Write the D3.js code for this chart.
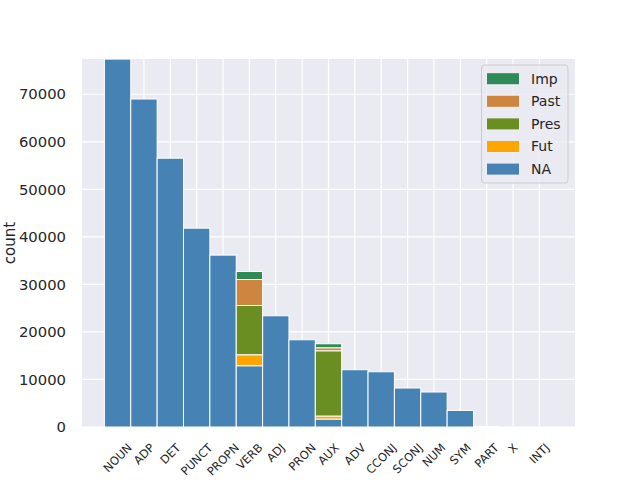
<!DOCTYPE html>
<html><head><meta charset="utf-8">
<script src="https://cdn.jsdelivr.net/npm/d3@7"></script>
<style>body{margin:0;background:#fff}svg{display:block}text{font-family:"DejaVu Sans",sans-serif;fill:#262626}</style>
</head><body><svg id="c" width="640" height="480"></svg>
<script>
const categories = ["NOUN","ADP","DET","PUNCT","PROPN","VERB","ADJ","PRON","AUX","ADV","CCONJ","SCONJ","NUM","SYM","PART","X","INTJ"];
const seriesNames = ["NA","Fut","Pres","Past","Imp"];
const valNA   = [77400,69000,56550,41830,36160,12890,23400,18350,1680,12050,11620,8200,7360,3490,100,50,30];
const valFut  = [0,0,0,0,0,2310,0,0,630,0,0,0,0,0,0,0,0];
const valPres = [0,0,0,0,0,10360,0,0,13730,0,0,0,0,0,0,0,0];
const valPast = [0,0,0,0,0,5470,0,0,630,0,0,0,0,0,0,0,0];
const valImp  = [0,0,0,0,0,1680,0,0,840,0,0,0,0,0,0,0,0];
const yTicks = [0,10000,20000,30000,40000,50000,60000,70000];
const legendOrder = ["Imp","Past","Pres","Fut","NA"];
const colors = {NA:"#4682B4",Fut:"#FFA500",Pres:"#6B8E23",Past:"#CD853F",Imp:"#2E8B57"};
const yLabel = "count";

const seriesVals = {NA:valNA,Fut:valFut,Pres:valPres,Past:valPast,Imp:valImp};
const rows = categories.map((c,i)=>{const r={cat:c,i:i};seriesNames.forEach(s=>r[s]=seriesVals[s][i]);return r;});
const stacked = d3.stack().keys(seriesNames)(rows);

const L=82,R=575,T=59,B=427;
const svg=d3.select("#c");
const x=d3.scaleLinear().domain([-1.35,categories.length-1+1.35]).range([L,R]);
const y=d3.scaleLinear().domain([0,77420]).range([B,T]);

svg.append("defs").append("clipPath").attr("id","clip").append("rect").attr("x",L).attr("y",T).attr("width",R-L).attr("height",B-T);
svg.append("rect").attr("x",L).attr("y",T).attr("width",R-L).attr("height",B-T).attr("fill","#EAEAF2");

const g=svg.append("g").attr("clip-path","url(#clip)");
g.selectAll(".hg").data(yTicks).join("line").attr("x1",L).attr("x2",R).attr("y1",d=>y(d)).attr("y2",d=>y(d)).attr("stroke","#fff").attr("stroke-width",1.2);
g.selectAll(".vg").data(categories.map((c,i)=>i)).join("line").attr("y1",T).attr("y2",B).attr("x1",d=>x(d)).attr("x2",d=>x(d)).attr("stroke","#fff").attr("stroke-width",1.2);

stacked.forEach(layer=>{
  g.append("g").selectAll("rect").data(layer).join("rect")
   .attr("x",(d,i)=>x(i-0.5)).attr("width",(d,i)=>x(i+0.5)-x(i-0.5))
   .attr("y",d=>y(d[1])).attr("height",d=>Math.max(0,y(d[0])-y(d[1])))
   .attr("fill",colors[layer.key]).attr("stroke","#fff").attr("stroke-width",1);
});

svg.selectAll(".yt").data(yTicks).join("text").attr("x",66).attr("y",d=>y(d)).attr("dy","0.35em")
  .attr("text-anchor","end").attr("font-size","14.8px").text(d=>d3.format("d")(d));
svg.append("text").attr("transform",`translate(15,${(T+B)/2}) rotate(-90)`).attr("text-anchor","middle")
  .attr("font-size","15px").text(yLabel);

categories.forEach((c,i)=>{
  const t=svg.append("text").attr("font-size","11.5px").attr("text-anchor","middle").attr("dominant-baseline","central").text(c);
  const w=t.node().getComputedTextLength(); const h=13;
  const H=(w+h)/Math.SQRT2;
  t.attr("transform",`translate(${x(i)},${441+H/2}) rotate(-45)`);
});

const lg=svg.append("g");
lg.append("rect").attr("x",481.5).attr("y",65).attr("width",86.5).attr("height",118).attr("rx",3)
  .attr("fill","#EAEAF2").attr("fill-opacity",0.8).attr("stroke","#cccccc").attr("stroke-width",1);
legendOrder.forEach((s,k)=>{
  const cy=78.7+k*22.6;
  lg.append("rect").attr("x",487).attr("y",cy-5.5).attr("width",32).attr("height",11).attr("fill",colors[s]);
  lg.append("text").attr("x",531).attr("y",cy).attr("dy","0.35em").attr("font-size","14px").text(s);
});
</script></body></html>
